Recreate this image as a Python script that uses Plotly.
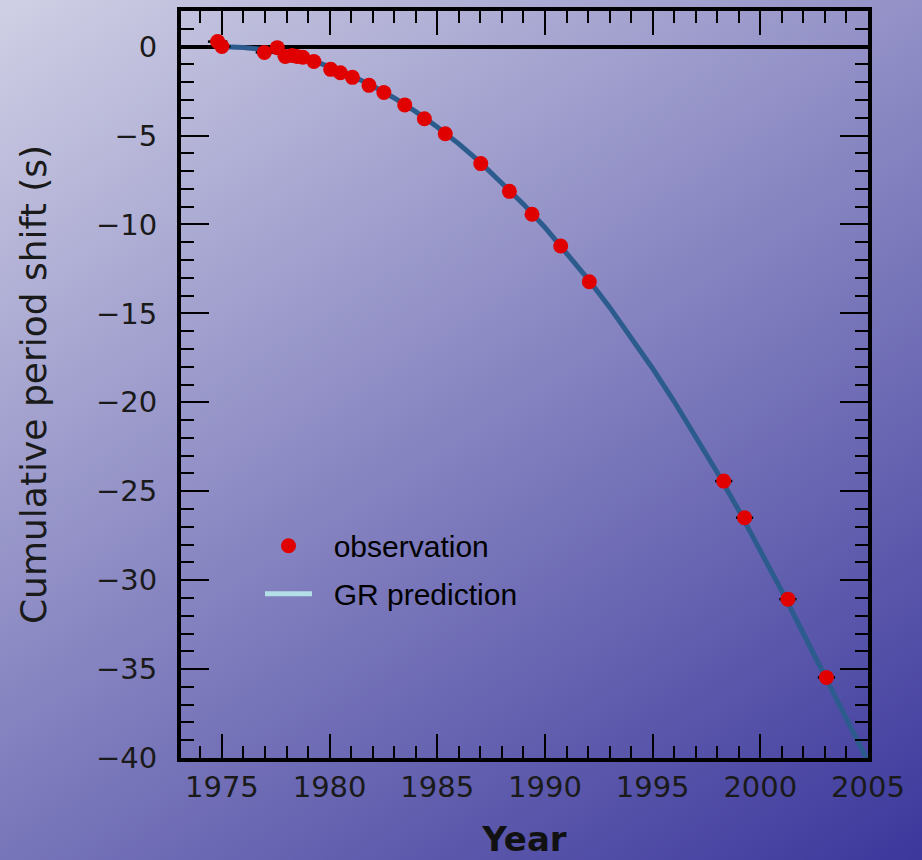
import base64
import plotly.graph_objects as go

# ---------------- data ----------------
obs_year = [1974.8, 1975.0, 1976.97, 1977.57, 1977.94, 1978.26, 1978.49, 1978.76,
            1979.27, 1980.05, 1980.5, 1981.06, 1981.83, 1982.52, 1983.49, 1984.4,
            1985.37, 1987.02, 1988.35, 1989.4, 1990.73, 1992.06, 1998.3, 1999.27,
            2001.28, 2003.07]
obs_shift = [0.28, 0.0, -0.33, -0.06, -0.56, -0.5, -0.56, -0.6,
             -0.84, -1.28, -1.47, -1.73, -2.18, -2.58, -3.28, -4.06,
             -4.9, -6.58, -8.14, -9.43, -11.21, -13.22, -24.43, -26.49,
             -31.07, -35.47]
obs_err = [0.45, 0.4, 0.4, 0.35, 0.35, 0.3, 0.3, 0.3,
           0.3, 0.3, 0.3, 0.3, 0.3, 0.3, 0.3, 0.3,
           0.3, 0.3, 0.3, 0.3, 0.3, 0.3, 0.4, 0.4,
           0.4, 0.4]

gr_year = [1974.8, 1975, 1976, 1977, 1978, 1979, 1980, 1981, 1982, 1983, 1984,
           1985, 1986, 1987, 1988, 1989, 1990, 1991, 1992, 1993, 1994,
           1995, 1996, 1997, 1998, 1999, 2000, 2001, 2002, 2003, 2004, 2005]
gr_shift = [0.0, 0.0, -0.05, -0.18, -0.41, -0.72, -1.13, -1.63, -2.21, -2.89, -3.66,
            -4.52, -5.47, -6.51, -7.64, -8.86, -10.17, -11.57, -13.07, -14.65, -16.33,
            -18.1, -19.96, -21.9, -23.95, -26.08, -28.3, -30.62, -33.0, -35.35, -37.8, -40.2]

x_ticks = [1975, 1980, 1985, 1990, 1995, 2000, 2005]
y_ticks = [0, -5, -10, -15, -20, -25, -30, -35, -40]

# ---------------- layout geometry ----------------
W, H = 922, 860
ML, MR, MT, MB = 181, 54, 7, 99
PW, PH = W - ML - MR, H - MT - MB
PAD = 6

svg = f'''<svg xmlns="http://www.w3.org/2000/svg" width="{W}" height="{H}" viewBox="0 0 {W} {H}" preserveAspectRatio="none">
<defs><linearGradient id="g" gradientUnits="userSpaceOnUse" x1="0" y1="0" x2="665" y2="1026">
<stop offset="0" stop-color="#d0d0e5"/>
<stop offset="0.5" stop-color="#8583c0"/>
<stop offset="1" stop-color="#3b379c"/>
</linearGradient></defs>
<rect x="0" y="0" width="{W}" height="{H}" fill="url(#g)"/>
</svg>'''
bg_uri = "data:image/svg+xml;base64," + base64.b64encode(svg.encode()).decode()

fig = go.Figure()

fig.add_trace(go.Scatter(
    x=gr_year, y=gr_shift, mode="lines",
    line=dict(color="#2c5c8e", width=5),
    showlegend=False, hoverinfo="skip"))

fig.add_trace(go.Scatter(
    x=obs_year, y=obs_shift, mode="markers", name="\u00a0\u00a0observation",
    marker=dict(color="#e00000", size=15, line=dict(width=0)),
    error_x=dict(type="data", array=obs_err, color="black", thickness=2.5, width=0),
    legendgroup="a"))

fig.add_trace(go.Scatter(
    x=[None], y=[None], mode="lines", name="\u00a0\u00a0GR prediction",
    line=dict(color="#b3dfe6", width=5), legendgroup="b"))

axis_common = dict(
    showline=True, linewidth=4, linecolor="black", mirror="ticks",
    ticks="inside", tickcolor="black", tickwidth=2,
    showgrid=False,
    tickfont=dict(family="DejaVu Sans", size=29, color="#1a1a1a"),
)

fig.update_xaxes(
    **axis_common,
    range=[1973.1, 2005], tickvals=x_ticks, ticklen=24,
    minor=dict(ticks="inside", dtick=1, tick0=1975, ticklen=12, tickwidth=2,
               tickcolor="black", showgrid=False),
    zeroline=False,
    title=dict(text="<b>Year</b>", font=dict(family="DejaVu Sans", size=34, color="#111"),
               standoff=25),
)

fig.update_yaxes(
    **axis_common,
    range=[-40, 2], tickvals=y_ticks, ticklen=28,
    minor=dict(ticks="inside", dtick=1, tick0=0, ticklen=13, tickwidth=2,
               tickcolor="black", showgrid=False),
    zeroline=True, zerolinecolor="black", zerolinewidth=4,
    ticklabelstandoff=14,
    title=dict(text="Cumulative period shift (s)",
               font=dict(family="DejaVu Sans", size=36, color="#1a1a1a"), standoff=39),
)

fig.update_layout(
    width=W, height=H,
    margin=dict(l=ML, r=MR, t=MT, b=MB),
    paper_bgcolor="#5a57ac",
    plot_bgcolor="rgba(0,0,0,0)",
    images=[dict(source=bg_uri, xref="paper", yref="paper",
                 x=-(ML + PAD) / PW, y=1 + (MT + PAD) / PH,
                 sizex=(W + 2 * PAD) / PW, sizey=(H + 2 * PAD) / PH,
                 xanchor="left", yanchor="top", sizing="stretch", layer="below")],
    legend=dict(x=0.115, y=0.319, xanchor="left", yanchor="top",
                bgcolor="rgba(0,0,0,0)", borderwidth=0,
                font=dict(family="Liberation Sans", size=30, color="#000"),
                tracegroupgap=6, itemwidth=47),
    showlegend=True,
)

fig.write_html("out.html", config={"displayModeBar": False},
               post_script="document.body.style.margin='0';document.body.style.overflow='hidden';")
